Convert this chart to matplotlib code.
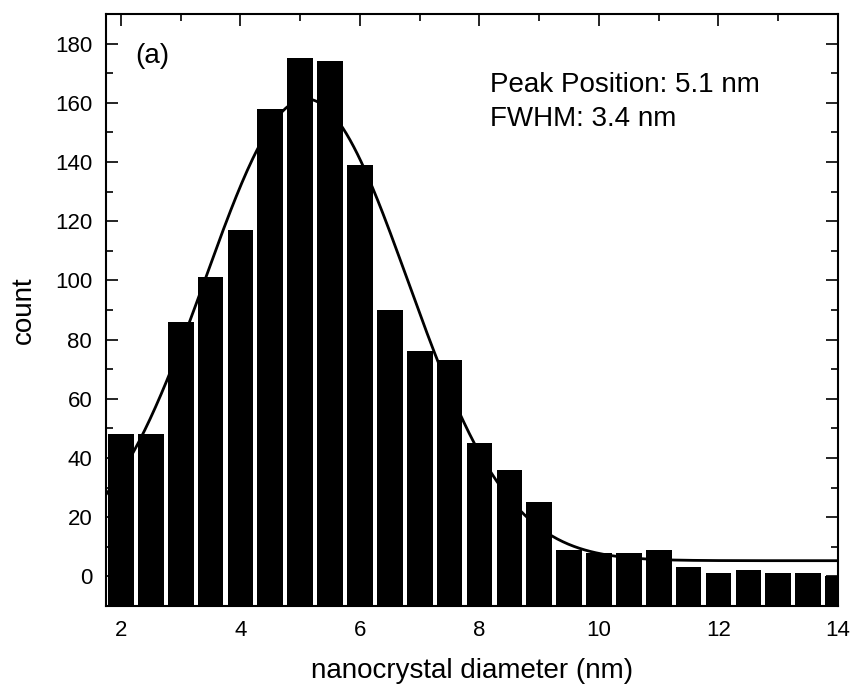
import numpy as np
import matplotlib
matplotlib.use('Agg')
import matplotlib.pyplot as plt
from matplotlib.ticker import MultipleLocator

plt.rcParams['font.family'] = ['Liberation Sans', 'DejaVu Sans']

# histogram of nanocrystal diameters (bin centres in nm, counts per bin)
diameter = [2.0, 2.5, 3.0, 3.5, 4.0, 4.5, 5.0, 5.5, 6.0, 6.5, 7.0, 7.5, 8.0,
            8.5, 9.0, 9.5, 10.0, 10.5, 11.0, 11.5, 12.0, 12.5, 13.0, 13.5, 14.0]
counts = [48, 48, 86, 101, 117, 158, 175, 174, 139, 90, 76, 73, 45,
          36, 25, 9, 8, 8, 9, 3, 1, 2, 1, 1, 0]

# Gauss fit parameters (y0 + A*exp(-2((x-xc)/w)^2))
fit_xc = 5.1
fit_w = 3.4
fit_A = 156.0
fit_y0 = 5.3

xmin, xmax = 1.75, 14.0
ymin, ymax = -10, 190

fig = plt.figure(figsize=(8.53, 6.89), dpi=100)
ax = fig.add_axes([0.1243, 0.1205, 0.8581, 0.8592])

d = np.array(diameter)
c = np.array(counts, dtype=float)
# bars start at the bottom of the frame
ax.bar(d, c - ymin, bottom=ymin, width=0.43, color='black', edgecolor='none', zorder=1)

xf = np.linspace(xmin, xmax, 400)
yf = fit_y0 + fit_A * np.exp(-2 * ((xf - fit_xc) / fit_w) ** 2)
ax.plot(xf, yf, color='black', lw=2.0, zorder=2)

ax.set_xlim(xmin, xmax)
ax.set_ylim(ymin, ymax)

ax.xaxis.set_major_locator(MultipleLocator(2))
ax.xaxis.set_minor_locator(MultipleLocator(1))
ax.yaxis.set_major_locator(MultipleLocator(20))
ax.yaxis.set_minor_locator(MultipleLocator(10))
ax.set_yticks(np.arange(0, 181, 20))

ax.tick_params(which='both', direction='in', top=True, right=True, width=1.2)
ax.tick_params(which='major', length=8.5, labelsize=16, pad=10)
ax.tick_params(which='minor', length=5)
for s in ax.spines.values():
    s.set_linewidth(1.5)

ax.set_xlabel('nanocrystal diameter (nm)', fontsize=20, labelpad=12)
ax.set_ylabel('count', fontsize=20, labelpad=13)

ax.text(0.0396, 0.9177, '(a)', transform=ax.transAxes, fontsize=20, va='baseline')
ax.text(0.5246, 0.8688, 'Peak Position: %.1f nm' % fit_xc, transform=ax.transAxes,
        fontsize=20, va='baseline')
ax.text(0.5246, 0.8108, 'FWHM: %.1f nm' % fit_w, transform=ax.transAxes,
        fontsize=20, va='baseline')

fig.savefig('out.png', dpi=100)
